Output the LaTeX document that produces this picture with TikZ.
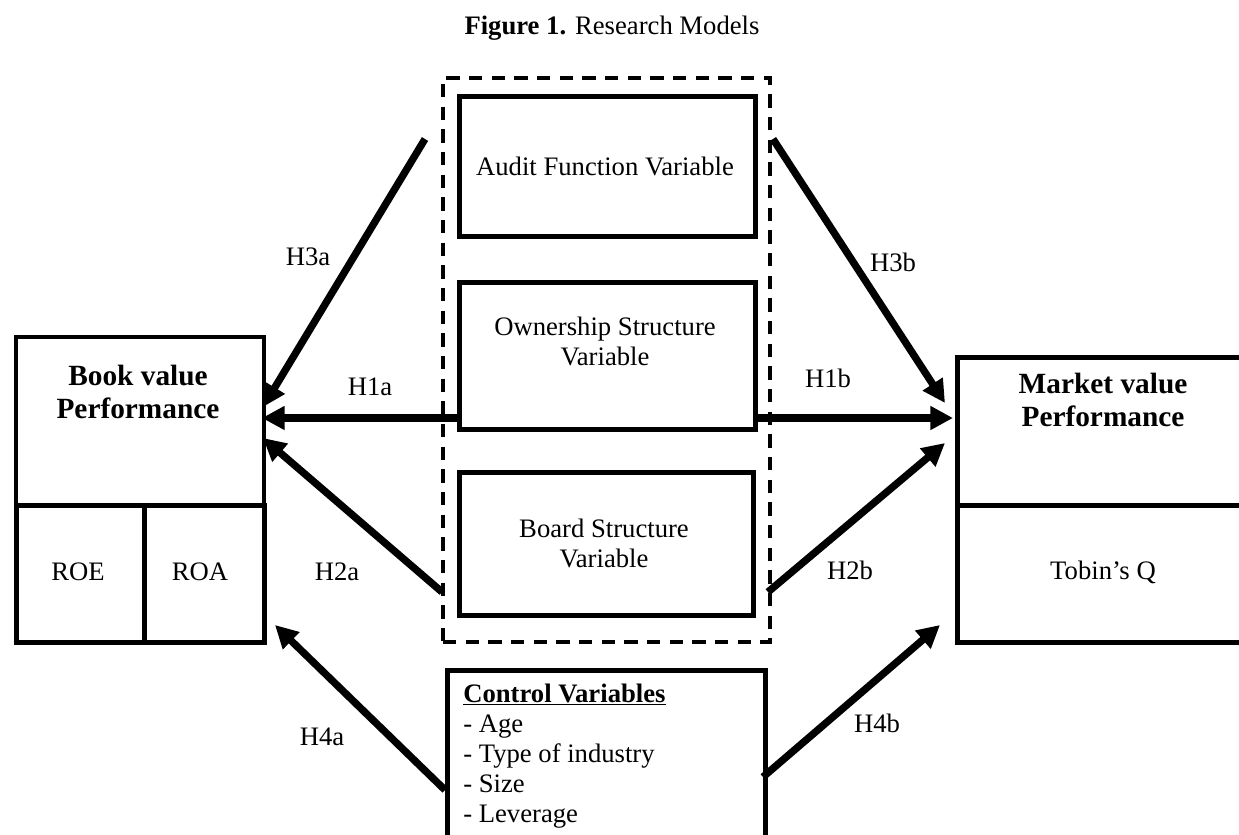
\documentclass[tikz,border=0pt]{standalone}
\usepackage{fontspec}
\setmainfont{Liberation Serif}
\usetikzlibrary{arrows.meta}
\begin{document}
\begin{tikzpicture}[x=0.75pt,y=-0.75pt,
  every node/.style={font=\fontsize{20}{22.5}\selectfont, inner sep=0pt},
  box/.style={draw, line width=3.75pt, anchor=north west, inner sep=0pt},
  thinbox/.style={box, line width=3pt},
  dashbox/.style={draw, line width=3pt, dash pattern=on 10pt off 7pt, anchor=north west, inner sep=0pt},
  hyp/.style={line width=5.5pt, -{Triangle[length=17pt,width=17pt]}},
  txt/.style={align=center},
  head/.style={align=center, font=\fontsize{22}{25}\selectfont\bfseries}]
\useasboundingbox (0,0) rectangle (1239,835);

% title
\node (title) at (612,28) {\textbf{Figure 1.} Research Models};

% dashed group
\node[dashbox, minimum width=245.25pt, minimum height=423pt] (group) at (441,76) {};

% central boxes
\node[box, minimum width=222pt, minimum height=105pt] (audit) at (457,94) {};
\node[txt] (audittxt) at (605,166) {Audit Function Variable};
\node[box, minimum width=222pt, minimum height=110.25pt] (own) at (457,280) {};
\node[txt] (owntxt) at (605,341) {Ownership Structure\\Variable};
\node[box, minimum width=220.5pt, minimum height=107.25pt] (board) at (457,470) {};
\node[txt] (boardtxt) at (604,543) {Board Structure\\Variable};

% left boxes
\node[thinbox, minimum width=186pt, minimum height=126pt] (book) at (14,335) {};
\node[head] (booktxt) at (138,392) {Book value\\Performance};
\node[box, minimum width=96pt, minimum height=102.75pt] (roe) at (14,503) {};
\node (roetxt) at (78,572) {ROE};
\node[box, minimum width=90pt, minimum height=102.75pt] (roa) at (142,503) {};
\node (roatxt) at (200,572) {ROA};

% right boxes
\node[box, minimum width=228.75pt, minimum height=111pt] (market) at (955,355) {};
\node[head] (markettxt) at (1103,400) {Market value\\Performance};
\node[box, minimum width=228.75pt, minimum height=102.75pt] (tobin) at (955,503) {};
\node (tobintxt) at (1103,572) {Tobin’s Q};

% control box
\node[box, minimum width=238.5pt, minimum height=144pt] (control) at (445,668) {};
\node[align=left, anchor=west] (controltxt) at (463,756)
  {\underline{\textbf{Control Variables}}\\- Age\\- Type of industry\\- Size\\- Leverage};

% arrow end points
\coordinate (s3a) at (425,139);
\coordinate (t3a) at (263,407);
\coordinate (s1a) at (457,418);
\coordinate (t1a) at (262,418);
\coordinate (s2a) at (442,592);
\coordinate (t2a) at (263,438);
\coordinate (s4a) at (445,790);
\coordinate (t4a) at (275,625);
\coordinate (s3b) at (773,139);
\coordinate (t3b) at (945,403);
\coordinate (s1b) at (753,418);
\coordinate (t1b) at (953,418);
\coordinate (s2b) at (768,592);
\coordinate (t2b) at (945,443);
\coordinate (s4b) at (763,777);
\coordinate (t4b) at (940,625);

\draw[hyp] (s3a) -- (t3a);
\draw[hyp] (s1a) -- (t1a);
\draw[hyp] (s2a) -- (t2a);
\draw[hyp] (s4a) -- (t4a);
\draw[hyp] (s3b) -- (t3b);
\draw[hyp] (s1b) -- (t1b);
\draw[hyp] (s2b) -- (t2b);
\draw[hyp] (s4b) -- (t4b);

% labels
\node (l3a) at (308,257) {H3a};
\node (l1a) at (370,387) {H1a};
\node (l2a) at (337,572) {H2a};
\node (l4a) at (322,737) {H4a};
\node (l3b) at (893,262) {H3b};
\node (l1b) at (828,378) {H1b};
\node (l2b) at (850,570) {H2b};
\node (l4b) at (877,723) {H4b};
\end{tikzpicture}
\end{document}
